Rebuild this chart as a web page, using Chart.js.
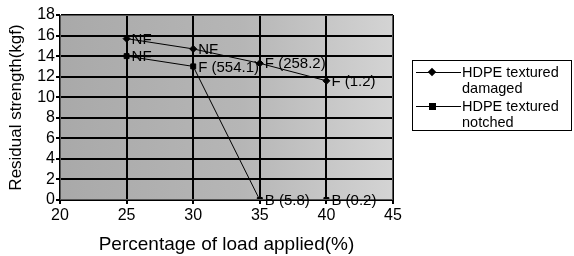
<!DOCTYPE html>
<html>
<head>
<meta charset="utf-8">
<script src="https://cdn.jsdelivr.net/npm/chart.js@4/dist/chart.umd.min.js"></script>
<style>
  body { margin: 0; background: #fff; }
  #wrap { position: relative; width: 574px; height: 256px; }
  #legend {
    position: absolute; left: 412px; top: 60px; width: 160px; height: 71px;
    border: 1px solid #000; box-sizing: border-box;
    font-family: "Liberation Sans", Arial, sans-serif; font-size: 14.5px; color: #000;
  }
  .item { position: absolute; left: 3px; line-height: 16px; }
  .item .mark { position: absolute; left: 0; top: 8px; width: 45px; height: 1px; background: #000; }
  .item .txt { padding-left: 46px; white-space: nowrap; }
  .diamond { position: absolute; left: 13px; top: -3px; width: 6px; height: 6px; background: #000; transform: rotate(45deg); }
  .square { position: absolute; left: 13px; top: -3px; width: 7px; height: 7px; background: #000; }
</style>
</head>
<body>
<div id="wrap">
  <canvas id="chart" width="574" height="256"></canvas>
  <div id="legend">
    <div class="item" style="top:3px"><div class="mark"><div class="diamond"></div></div><div class="txt">HDPE textured<br>damaged</div></div>
    <div class="item" style="top:37px"><div class="mark"><div class="square"></div></div><div class="txt">HDPE textured<br>notched</div></div>
  </div>
</div>
<script>
const loadApplied = [25, 30, 35, 40]
const damagedValues = [15.7, 14.7, 13.3, 11.6]
const notchedValues = [14.0, 13.0, 0, 0]
const damagedLabels = ['NF', 'NF', 'F (258.2)', 'F (1.2)']
const notchedLabels = ['NF', 'F (554.1)', 'B (5.8)', 'B (0.2)']
const xTicks = [20, 25, 30, 35, 40, 45]
const yTicks = [0, 2, 4, 6, 8, 10, 12, 14, 16, 18]

const font = '"Liberation Sans", Arial, sans-serif'

// gray plot background (a bit lighter to the right) + frame
const plotBg = {
  id: 'plotBg',
  beforeDraw(chart) {
    const { ctx, chartArea: a } = chart
    const g = ctx.createLinearGradient(a.left, 0, a.right, 0)
    g.addColorStop(0, '#a9a9a9')
    g.addColorStop(0.55, '#b6b6b6')
    g.addColorStop(1, '#d4d4d4')
    ctx.save()
    ctx.fillStyle = g
    ctx.fillRect(a.left, a.top, a.right - a.left, a.bottom - a.top)
    ctx.restore()
  },
  afterDatasetsDraw(chart) {
    const { ctx, chartArea: a } = chart
    ctx.save()
    ctx.strokeStyle = '#555'
    ctx.lineWidth = 1
    ctx.strokeRect(a.left + 0.5, a.top + 0.5, a.right - a.left - 1, a.bottom - a.top - 1)
    ctx.restore()
  }
}

// text next to each point
const pointText = {
  id: 'pointText',
  afterDatasetsDraw(chart) {
    const ctx = chart.ctx
    ctx.save()
    ctx.font = '15px ' + font
    ctx.fillStyle = '#000'
    ctx.textBaseline = 'middle'
    chart.data.datasets.forEach((ds, i) => {
      const meta = chart.getDatasetMeta(i)
      meta.data.forEach((pt, j) => {
        ctx.fillText(ds.pointText[j], pt.x + 5, pt.y + 1)
      })
    })
    ctx.restore()
  }
}

new Chart(document.getElementById('chart'), {
  type: 'line',
  data: {
    datasets: [
      {
        label: 'HDPE textured damaged',
        data: loadApplied.map((x, i) => ({ x, y: damagedValues[i] })),
        pointText: damagedLabels,
        borderColor: '#000', borderWidth: 1,
        pointStyle: 'rectRot', pointRadius: 3.5,
        pointBackgroundColor: '#000', pointBorderColor: '#000',
      },
      {
        label: 'HDPE textured notched',
        data: loadApplied.map((x, i) => ({ x, y: notchedValues[i] })),
        pointText: notchedLabels,
        borderColor: '#000', borderWidth: 1,
        pointStyle: 'rect', pointRadius: 3.5,
        pointBackgroundColor: '#000', pointBorderColor: '#000',
      },
    ],
  },
  options: {
    responsive: false,
    animation: false,
    layout: { padding: { top: 15, right: 181, left: 0, bottom: 0 } },
    plugins: { legend: { display: false }, tooltip: { enabled: false } },
    scales: {
      x: {
        type: 'linear', min: 20, max: 45,
        afterBuildTicks: (s) => { s.ticks = xTicks.map((v) => ({ value: v })) },
        afterFit: (s) => { s.height = 56 },
        grid: { color: '#000', lineWidth: 2, tickLength: 4, drawTicks: true },
        border: { color: '#000', width: 1 },
        ticks: { color: '#000', font: { family: font, size: 16 }, padding: 2, autoSkip: false, maxRotation: 0 },
        title: { display: true, text: 'Percentage of load applied(%)', color: '#000', font: { family: font, size: 19 }, padding: { top: 4, bottom: 0 } },
      },
      y: {
        min: 0, max: 18,
        afterBuildTicks: (s) => { s.ticks = yTicks.map((v) => ({ value: v })) },
        afterFit: (s) => { s.width = 60 },
        grid: { color: '#000', lineWidth: 2, tickLength: 4 },
        border: { color: '#000', width: 1 },
        ticks: { color: '#000', font: { family: font, size: 16 }, padding: 1, autoSkip: false },
        title: { display: true, text: 'Residual strength(kgf)', color: '#000', font: { family: font, size: 17 }, padding: { top: 6, bottom: 2 } },
      },
    },
  },
  plugins: [plotBg, pointText],
})
</script>
</body>
</html>
